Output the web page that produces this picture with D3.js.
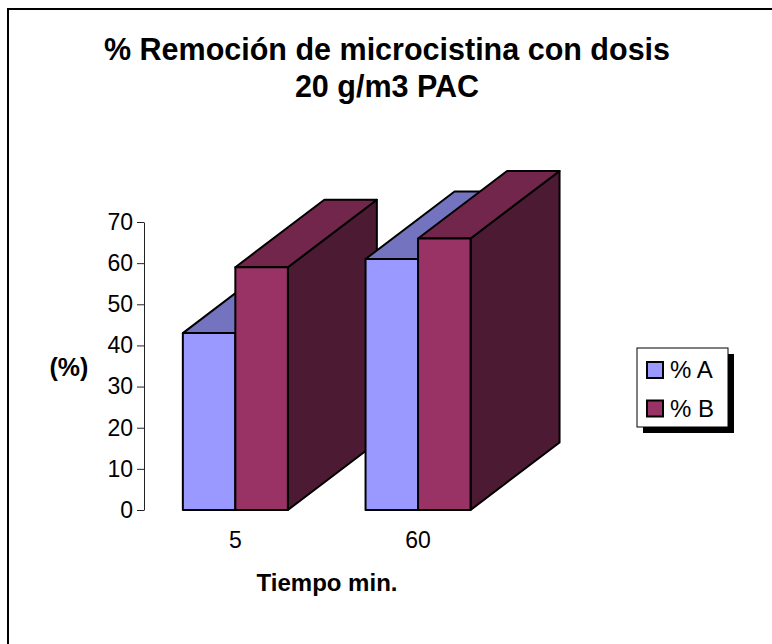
<!DOCTYPE html>
<html>
<head>
<meta charset="utf-8">
<script src="https://cdn.jsdelivr.net/npm/d3@7"></script>
<style>
html,body{margin:0;padding:0;background:#fff;}
svg{display:block;font-family:"Liberation Sans",Arial,sans-serif;}
</style>
</head>
<body>
<svg id="chart" width="772" height="644"></svg>
<script>
const categories = ["5", "60"];
const seriesNames = ["% A", "% B"];
const valuesA = [43, 61];
const valuesB = [59, 66];
const yTicks = [0, 10, 20, 30, 40, 50, 60, 70];
const titleLines = ["% Remoción de microcistina con dosis", "20 g/m3 PAC"];
const xTitle = "Tiempo min.";
const yTitle = "(%)";

const colors = {
  "% A": {front: "#9999FF", top: "#7373BF", side: "#4D4D80"},
  "% B": {front: "#993366", top: "#73264C", side: "#4D1A33"}
};

const svg = d3.select("#chart");

// frame
svg.append("rect").attr("x", 8).attr("y", 9).attr("width", 800).attr("height", 700)
  .attr("fill", "#fff").attr("stroke", "#000").attr("stroke-width", 2);

// title
svg.append("g").selectAll("text").data(titleLines).join("text")
  .attr("x", 387).attr("y", (d, i) => 60 + i * 37)
  .attr("text-anchor", "middle").attr("font-weight", "bold").attr("font-size", 30.5)
  .text(d => d);

const y = d3.scaleLinear().domain([0, 70]).range([510, 222]);
const x0 = d3.scaleBand().domain(categories).range([144, 509.4]).padding(0);
const groupW = 105;
const x1 = d3.scaleBand().domain(seriesNames).range([0, groupW]).padding(0);
const depthX = 89, depthY = 67.5;

// y axis
const yAxis = d3.axisLeft(y).tickValues(yTicks).tickSize(7).tickSizeOuter(0).tickPadding(4);
const ag = svg.append("g").attr("transform", "translate(144,0)").call(yAxis);
ag.attr("font-size", 23).attr("font-family", "Liberation Sans, Arial, sans-serif");
ag.select(".domain").attr("stroke", "#222").attr("stroke-width", 1);
ag.selectAll(".tick line").attr("stroke", "#222");
ag.selectAll(".tick text").attr("fill", "#000");

// bars
const data = [];
categories.forEach((c, i) => {
  data.push({cat: c, s: "% A", v: valuesA[i]});
  data.push({cat: c, s: "% B", v: valuesB[i]});
});

const pts = arr => arr.map(p => p.join(",")).join(" ");
const barsG = svg.append("g");
data.forEach(d => {
  const xl = x0(d.cat) + (x0.bandwidth() - groupW) / 2 + x1(d.s);
  const xr = xl + x1.bandwidth();
  const yt = y(d.v), yb = y(0);
  const g = barsG.append("g").attr("stroke", "#000").attr("stroke-width", 2).attr("stroke-linejoin", "round");
  g.append("polygon").attr("points", pts([[xr, yt], [xr + depthX, yt - depthY], [xr + depthX, yb - depthY], [xr, yb]]))
    .attr("fill", colors[d.s].side);
  g.append("polygon").attr("points", pts([[xl, yt], [xl + depthX, yt - depthY], [xr + depthX, yt - depthY], [xr, yt]]))
    .attr("fill", colors[d.s].top);
  g.append("rect").attr("x", xl).attr("y", yt).attr("width", xr - xl).attr("height", yb - yt)
    .attr("fill", colors[d.s].front);
});

// x labels
svg.append("g").selectAll("text").data(categories).join("text")
  .attr("x", d => x0(d) + x0.bandwidth() / 2).attr("y", 548)
  .attr("text-anchor", "middle").attr("font-size", 23).text(d => d);

svg.append("text").attr("x", 327).attr("y", 591).attr("text-anchor", "middle")
  .attr("font-weight", "bold").attr("font-size", 24).text(xTitle);

svg.append("text").attr("x", 69).attr("y", 376).attr("text-anchor", "middle")
  .attr("font-weight", "bold").attr("font-size", 25).text(yTitle);

// legend
const lg = svg.append("g").attr("transform", "translate(637,348)");
lg.append("rect").attr("x", 6).attr("y", 6).attr("width", 91).attr("height", 79).attr("fill", "#000");
lg.append("rect").attr("x", 0).attr("y", 0).attr("width", 91).attr("height", 79).attr("fill", "#fff").attr("stroke", "#000").attr("stroke-width", 1);
seriesNames.forEach((s, i) => {
  lg.append("rect").attr("x", 10).attr("y", 14 + i * 38.5).attr("width", 16).attr("height", 16)
    .attr("fill", colors[s].front).attr("stroke", "#000").attr("stroke-width", 2);
  lg.append("text").attr("x", 33).attr("y", 30 + i * 38.5).attr("font-size", 24).text(s);
});
</script>
</body>
</html>
